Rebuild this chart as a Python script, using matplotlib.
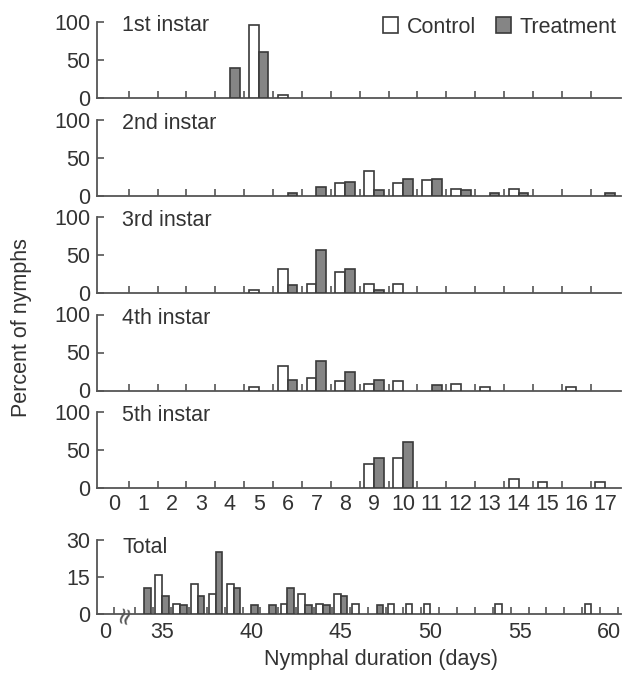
import matplotlib.pyplot as plt
import numpy as np
from matplotlib.patches import Patch

plt.rcParams['font.family'] = ['Liberation Sans', 'DejaVu Sans']

# Jours de développement par stade (0 à 17 jours)
days = list(range(18))

ctrl_1st = [0, 0, 0, 0, 0, 96, 4, 0, 0, 0, 0, 0, 0, 0, 0, 0, 0, 0]
treat_1st = [0, 0, 0, 0, 39.3, 60.7, 0, 0, 0, 0, 0, 0, 0, 0, 0, 0, 0, 0]

ctrl_2nd = [0, 0, 0, 0, 0, 0, 0, 0, 16, 32, 16, 20, 8, 0, 8, 0, 0, 0]
treat_2nd = [0, 0, 0, 0, 0, 0, 3.6, 10.7, 17.9, 7.1, 21.4, 21.4, 7.1, 3.6, 3.6, 0, 0, 3.6]

ctrl_3rd = [0, 0, 0, 0, 0, 4, 32, 12, 28, 12, 12, 0, 0, 0, 0, 0, 0, 0]
treat_3rd = [0, 0, 0, 0, 0, 0, 10.7, 56, 32, 3.6, 0, 0, 0, 0, 0, 0, 0, 0]

ctrl_4th = [0, 0, 0, 0, 0, 4, 32, 16, 12, 8, 12, 0, 8, 4, 0, 0, 4, 0]
treat_4th = [0, 0, 0, 0, 0, 0, 14.3, 39.3, 25, 14.3, 0, 7.1, 0, 0, 0, 0, 0, 0]

ctrl_5th = [0, 0, 0, 0, 0, 0, 0, 0, 0, 32, 40, 0, 0, 0, 12, 8, 0, 8]
treat_5th = [0, 0, 0, 0, 0, 0, 0, 0, 0, 39.3, 60.7, 0, 0, 0, 0, 0, 0, 0]

instar_names = ["1st instar", "2nd instar", "3rd instar", "4th instar", "5th instar"]
ctrl_all = [ctrl_1st, ctrl_2nd, ctrl_3rd, ctrl_4th, ctrl_5th]
treat_all = [treat_1st, treat_2nd, treat_3rd, treat_4th, treat_5th]

# Durée totale (34 à 59 jours)
total_days = list(range(34, 60))
ctrl_total = [0, 16, 4, 12, 8, 12, 0, 0, 4, 8, 4, 8, 4, 0, 4, 4, 4, 0, 0, 0, 4, 0, 0, 0, 0, 4]
treat_total = [10.7, 7.1, 3.6, 7.1, 25, 10.7, 3.6, 3.6, 10.7, 3.6, 3.6, 7.1, 0, 3.6,
               0, 0, 0, 0, 0, 0, 0, 0, 0, 0, 0, 0]
total_ticks = [35, 40, 45, 50, 55, 60]

TXT = '#333333'
AXC = '#555555'
EDGE = '#3a3a3a'
GRAY = '#858585'
FS = 15.5

W, H = 627, 675
fig = plt.figure(figsize=(W / 100, H / 100), dpi=100)

left_px, right_px = 97, 621


def make_ax(top_px, h_px):
    return fig.add_axes([left_px / W, 1 - (top_px + h_px) / H, (right_px - left_px) / W, h_px / H])


def style(ax):
    for s in ['top', 'right']:
        ax.spines[s].set_visible(False)
    for s in ['left', 'bottom']:
        ax.spines[s].set_color(AXC)
        ax.spines[s].set_linewidth(1.3)
    ax.tick_params(axis='both', which='both', direction='in', colors=AXC, labelcolor=TXT,
                   labelsize=FS, width=1.2)
    ax.tick_params(axis='y', length=5, pad=5)
    ax.tick_params(axis='x', which='major', length=0, pad=4)
    ax.tick_params(axis='x', which='minor', length=5)


def draw_bars(ax, x, c, t, w):
    x = np.array(x, dtype=float)
    c = np.array(c, dtype=float)
    t = np.array(t, dtype=float)
    mc = c > 0
    mt = t > 0
    ax.bar(x[mc] - w / 2, c[mc], w, color='white', edgecolor=EDGE, linewidth=1.2, zorder=3)
    ax.bar(x[mt] + w / 2, t[mt], w, color=GRAY, edgecolor=EDGE, linewidth=1.2, zorder=3)


for i in range(5):
    ax = make_ax(22 + 97.5 * i, 76)
    style(ax)
    draw_bars(ax, days, ctrl_all[i], treat_all[i], 0.34)
    ax.set_xlim(-0.6, 17.55)
    ax.set_ylim(0, 100)
    ax.set_yticks([0, 50, 100])
    ax.set_xticks(days)
    ax.set_xticks(np.array(days[:-1]) + 0.5, minor=True)
    if i < 4:
        ax.set_xticklabels([])
    ax.text(0.048, 0.95, instar_names[i], transform=ax.transAxes, ha='left', va='center',
            fontsize=FS, color=TXT)
    if i == 0:
        handles = [Patch(facecolor='white', edgecolor=EDGE, linewidth=1.2),
                   Patch(facecolor=GRAY, edgecolor=EDGE, linewidth=1.2)]
        ax.legend(handles, ['Control', 'Treatment'], loc='upper right', ncol=2, frameon=False,
                  fontsize=FS, handlelength=0.7, handleheight=0.7, columnspacing=0.9,
                  handletextpad=0.4, borderaxespad=0, borderpad=0.1,
                  bbox_to_anchor=(0.995, 1.1), labelcolor=TXT)

# Panneau total avec axe interrompu
axt = make_ax(540, 74)
style(axt)
axt.tick_params(axis='x', which='major', pad=6)
draw_bars(axt, total_days, ctrl_total, treat_total, 0.37)
zero_pos = 31.8
axt.set_xlim(31.36, 60.67)
axt.set_ylim(0, 30)
axt.set_yticks([0, 15, 30])
axt.set_xticks([zero_pos] + total_ticks)
axt.set_xticklabels(['0'] + [str(v) for v in total_ticks])
axt.set_xticks([zero_pos + 0.5] + list(np.arange(33.5, 60.6, 1.0)), minor=True)
axt.text(32.93, 0, '\u2248', rotation=75, ha='center', va='center', fontsize=17, color=AXC,
         family='DejaVu Sans', zorder=5)
axt.text(0.048, 0.9, 'Total', transform=axt.transAxes, ha='left', va='center',
         fontsize=FS, color=TXT)

fig.text(381 / W, 1 - 660 / H, 'Nymphal duration (days)', ha='center', va='center',
         fontsize=FS, color=TXT)
fig.text(22 / W, 1 - 328 / H, 'Percent of nymphs', ha='center', va='center', rotation=90,
         fontsize=FS, color=TXT)

fig.savefig('out.png', dpi=100)
